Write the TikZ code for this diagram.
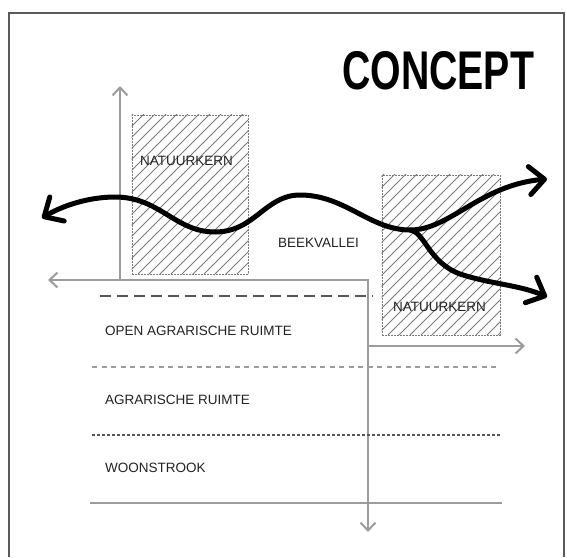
\documentclass[tikz,border=0pt]{standalone}
\usepackage{fontspec}
\setmainfont{Liberation Sans}
\usetikzlibrary{arrows.meta}
\definecolor{axisgrey}{HTML}{9C9C9C}
\definecolor{txtgrey}{HTML}{222222}
\definecolor{framegrey}{HTML}{5A5A5A}
\definecolor{hatchgrey}{HTML}{7A7A7A}
\definecolor{dashgrey}{HTML}{555555}
\tikzset{
  axisline/.style={axisgrey, line width=2pt, line cap=butt},
  greytip/.tip={Straight Barb[length=8pt,width=15pt]},
  wavetip/.tip={Straight Barb[length=15pt,width=28pt,round]},
  wave/.style={black, line width=5pt, line cap=round, line join=round},
  label/.style={inner sep=0pt, anchor=west, text=txtgrey, font=\fontsize{13.5}{15}\selectfont},
  kern/.style={draw=hatchgrey, line width=0.8pt, dash pattern=on 2pt off 1pt, inner sep=0pt},
  hatch/.style={hatchgrey, line width=0.8pt},
}
\begin{document}
\begin{tikzpicture}[x=1pt,y=-1pt]
\useasboundingbox (0,0) rectangle (567,557);
\fill[white] (0,0) rectangle (567,557);
% frame
\draw[framegrey, line width=1.6pt] (9,557) -- (9,13) -- (564,13) -- (564,557);
% title
\node (title) [inner sep=0pt, anchor=west] at (342,70.5)
  {\scalebox{0.72}[1]{\fontsize{54.5}{60}\selectfont\bfseries CONCEPT}};
% hatched boxes
\node (kern1) [kern, minimum width=116pt, minimum height=159pt] at (190,194.5) {};
\node (kern2) [kern, minimum width=118pt, minimum height=160pt] at (441,255) {};
\begin{scope}
  \clip (kern1.south west) rectangle (kern1.north east);
  \foreach \i in {-170,-159,...,130} \draw[hatch] (132+\i,274) -- ++(170,-170);
\end{scope}
\begin{scope}
  \clip (kern2.south west) rectangle (kern2.north east);
  \foreach \i in {-170,-159,...,130} \draw[hatch] (382+\i,335) -- ++(170,-170);
\end{scope}
% axes
\coordinate (axbase) at (120,280);
\coordinate (axtop) at (120,86);
\coordinate (axleft) at (48,280);
\coordinate (corner) at (368,280);
\coordinate (axdown) at (368,532);
\coordinate (branch) at (368,346);
\coordinate (axright) at (525,346);
\draw[axisline, -greytip] (axbase) -- (axtop);
\draw[axisline, greytip-greytip, line join=miter] (axleft) -- (corner) -- (axdown);
\draw[axisline, -greytip] (branch) -- (axright);
% zone lines
\coordinate (d1a) at (100,296); \coordinate (d1b) at (373,296);
\coordinate (d2a) at (92,367);  \coordinate (d2b) at (500,367);
\coordinate (d3a) at (92,435);  \coordinate (d3b) at (500,435);
\coordinate (d4a) at (90,503);  \coordinate (d4b) at (502,503);
\draw[dashgrey, line width=2.5pt, dash pattern=on 11pt off 6pt] (d1a) -- (d1b);
\draw[axisgrey, line width=2pt, dash pattern=on 5pt off 4.5pt] (d2a) -- (d2b);
\draw[dashgrey, line width=1.4pt, dash pattern=on 3pt off 2pt] (d3a) -- (d3b);
\draw[axisgrey, line width=2pt] (d4a) -- (d4b);
% labels
\node (lk1) [label] at (140,161) {NATUURKERN};
\node (lk2) [label] at (393,307) {NATUURKERN};
\node (lbeek) [label] at (278,243) {BEEKVALLEI};
\node (lopen) [label] at (105,331) {OPEN AGRARISCHE RUIMTE};
\node (lagr) [label] at (105,400) {AGRARISCHE RUIMTE};
\node (lwoon) [label] at (105,468) {WOONSTROOK};
% wave
\coordinate (wl) at (42,218);
\coordinate (wsplit) at (410,230);
\coordinate (wr) at (547,179);
\coordinate (wd) at (547,297);
\draw[wave, wavetip-wavetip]
  (wl) .. controls (62,206) and (88,197) .. (115,197)
  .. controls (160,197) and (175,232) .. (215,232)
  .. controls (255,232) and (265,195) .. (300,195)
  .. controls (345,195) and (370,230) .. (wsplit)
  .. controls (450,230) and (480,185) .. (wr);
\draw[wave, -wavetip]
  (wsplit) .. controls (425,232) and (428,262) .. (460,274)
  .. controls (490,284) and (520,285) .. (wd);
\end{tikzpicture}
\end{document}
